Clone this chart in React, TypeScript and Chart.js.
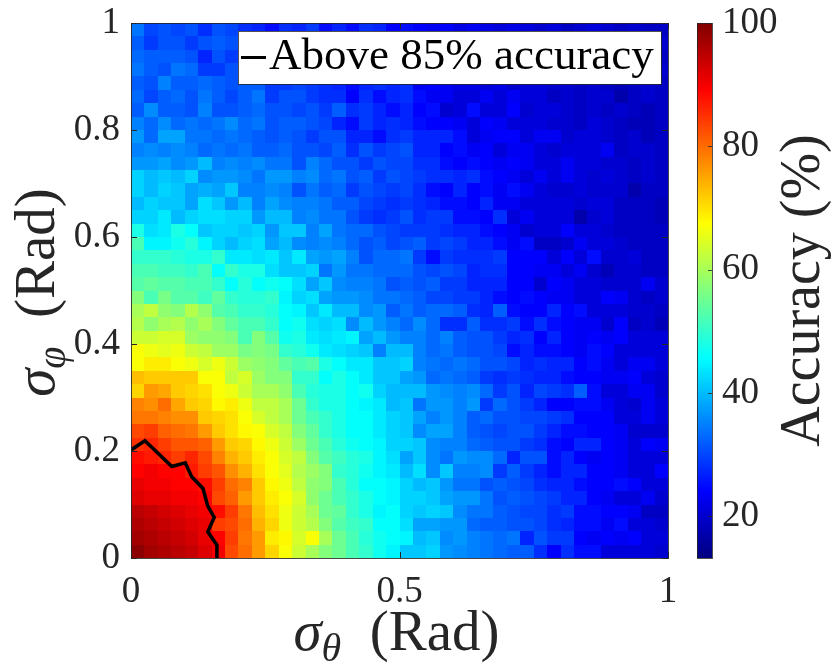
import React, { useEffect, useRef } from 'react';
import { Chart, registerables } from 'chart.js';

Chart.register(...registerables);

// ---------------- data ----------------
const sigmaStep = 0.025; // grid spacing of sigma_theta and sigma_phi (Rad)
const xTickValues = [0, 0.5, 1];
const yTickValues = [0, 0.2, 0.4, 0.6, 0.8, 1];
const colorTickValues = [20, 40, 60, 80, 100];
const colorLimits = [13.2, 100];
const legendLabel = 'Above 85% accuracy';
// 85 % accuracy contour (sigma_theta, sigma_phi) in Rad
const contourTheta = [0, 0.026, 0.076, 0.101, 0.113, 0.134, 0.143, 0.155, 0.143, 0.16, 0.16];
const contourPhi = [0.202, 0.219, 0.171, 0.178, 0.152, 0.13, 0.097, 0.076, 0.049, 0.024, 0];
// accuracy (%) per cell; rows run from sigma_phi = 1 (top) down to 0, columns sigma_theta = 0 -> 1
const accuracyRows: number[][] = [
  [34,30,31,30,31,28,31,30,28,27,25,28,27,29,25,27,25,28,27,24,25,24,23,24,22,23,22,21,22,21,20,21,19,20,21,20,19,20,19,19],
  [32,29,31,31,29,31,32,31,30,28,29,27,28,26,27,26,25,26,24,25,24,23,24,23,22,23,22,21,22,21,20,21,20,20,19,20,19,19,20,20],
  [33,32,32,32,31,27,31,29,31,29,28,29,27,28,26,27,25,26,25,24,25,24,23,24,22,22,23,21,22,21,21,20,21,20,20,19,20,19,19,19],
  [34,32,31,34,33,29,29,31,30,31,29,28,28,27,27,26,26,25,26,25,24,25,23,23,24,22,21,22,21,22,20,21,20,21,19,20,19,20,19,20],
  [32,31,35,32,32,33,32,31,32,32,29,29,30,29,28,27,25,27,28,27,28,23,24,23,22,22,21,22,20,21,21,20,20,19,20,19,18,19,20,19],
  [33,30,32,33,31,34,32,30,32,34,29,31,31,29,28,28,24,28,25,27,28,25,23,23,21,21,23,21,23,21,21,19,20,19,20,20,17,19,20,19],
  [32,36,32,32,31,35,31,31,32,33,31,31,30,31,29,32,28,29,27,25,27,24,25,20,21,25,21,21,24,20,21,21,20,19,20,19,20,19,18,19],
  [35,33,36,33,34,33,34,36,33,34,31,32,32,31,30,27,25,29,27,28,27,25,24,24,23,21,24,23,21,21,21,20,20,19,21,20,19,18,18,19],
  [37,33,38,38,34,34,33,34,33,32,31,32,31,29,31,31,27,27,25,28,29,27,27,27,25,21,23,24,24,21,23,23,20,21,21,20,19,20,18,19],
  [35,36,35,36,35,33,34,33,34,32,32,33,31,31,30,32,28,31,29,30,31,27,27,24,25,23,24,21,23,23,21,20,21,21,21,23,19,20,20,19],
  [37,37,38,36,37,40,35,36,35,36,34,34,31,35,33,31,31,29,31,30,30,28,28,25,24,25,24,23,24,23,21,21,23,21,21,20,20,19,20,19],
  [42,40,41,40,42,36,37,37,36,34,37,37,35,36,33,34,31,32,29,31,30,29,28,28,27,28,25,24,23,21,23,21,23,21,20,21,20,19,20,19],
  [42,40,42,41,38,39,38,41,35,35,36,35,31,34,32,33,29,31,30,29,30,28,25,24,27,24,25,23,25,23,21,20,20,21,20,20,20,17,19,19],
  [40,42,41,41,38,43,41,37,40,35,38,36,35,35,34,32,32,30,29,28,29,28,27,25,25,24,27,23,23,21,21,21,21,20,21,21,19,19,19,18],
  [42,42,44,40,42,43,43,42,42,37,40,40,35,36,34,34,31,29,28,29,31,28,29,29,25,25,24,28,21,23,21,21,21,17,20,21,19,19,19,18],
  [48,43,44,48,46,41,42,42,41,42,37,41,41,35,38,34,33,33,31,30,29,29,29,28,27,27,25,24,23,20,21,21,24,21,21,20,19,19,19,19],
  [52,45,45,47,49,45,42,40,42,43,38,40,36,35,36,35,33,31,32,30,31,32,29,30,29,27,27,25,23,25,19,19,20,23,21,21,20,19,19,19],
  [50,50,50,49,48,48,50,44,44,43,44,41,44,38,37,38,35,31,33,33,34,29,25,29,28,28,28,29,24,24,24,21,24,21,25,20,20,21,19,19],
  [52,52,51,51,50,52,46,50,48,48,43,41,41,42,34,37,34,34,33,33,33,31,30,31,30,27,28,28,24,24,23,23,21,23,20,18,20,20,19,19],
  [53,54,53,53,52,52,50,46,49,46,47,46,43,38,41,36,35,35,34,31,32,31,32,29,29,27,27,27,24,24,20,24,23,21,21,20,20,20,23,20],
  [57,52,56,53,53,51,54,50,49,49,50,45,42,43,38,37,37,36,34,34,33,32,30,30,29,29,27,25,24,25,24,23,23,21,21,24,23,20,19,20],
  [60,62,58,57,61,58,53,52,50,50,49,46,45,41,44,40,40,36,37,32,34,32,33,33,32,28,27,32,25,24,24,27,24,25,21,21,21,20,20,19],
  [61,58,60,61,58,60,57,54,52,52,50,46,47,43,42,43,36,40,37,35,33,36,33,28,28,32,28,28,29,25,28,25,24,23,23,20,24,19,20,18],
  [63,63,64,64,59,58,58,57,52,57,53,47,48,44,43,44,45,38,40,37,35,35,33,35,32,31,31,29,27,28,24,27,24,23,24,23,24,21,21,21],
  [67,66,65,66,63,62,59,59,56,57,56,50,49,47,44,43,42,41,35,40,40,35,33,34,32,31,31,30,25,27,25,25,24,23,25,24,21,21,21,21],
  [67,69,69,67,66,64,66,63,59,58,57,54,52,53,48,46,44,44,41,41,42,35,34,33,34,33,31,31,30,27,28,27,27,24,25,23,21,23,23,21],
  [73,72,72,72,72,67,67,62,64,59,57,57,50,50,46,48,46,44,41,41,38,37,33,34,33,32,29,28,29,28,27,27,25,24,24,23,23,24,21,20],
  [71,76,75,72,71,70,67,66,63,60,60,58,52,49,48,48,46,47,42,40,40,40,37,36,35,36,33,29,31,27,30,29,28,32,25,21,21,23,23,20],
  [78,77,80,75,72,71,68,69,66,62,62,60,55,50,48,48,46,45,44,40,41,34,37,37,35,37,29,33,31,29,27,24,24,25,25,23,21,20,23,21],
  [79,79,78,77,77,72,71,70,67,64,62,60,55,52,50,48,46,46,44,42,41,38,35,37,35,32,33,31,31,30,30,29,28,24,24,24,21,21,23,21],
  [83,84,81,80,79,76,72,70,68,67,64,62,57,54,50,48,46,46,44,42,41,36,38,38,35,32,31,30,31,31,29,27,25,25,24,24,23,20,20,20],
  [85,86,84,82,82,81,76,72,71,68,66,63,59,55,52,49,47,46,45,42,42,41,36,35,35,33,32,31,31,29,28,25,24,27,27,24,23,21,24,23],
  [88,87,86,84,86,83,78,74,72,69,67,64,62,57,53,51,49,48,45,43,38,41,36,34,37,36,36,33,27,31,31,25,27,24,23,24,23,21,21,21],
  [89,90,89,89,87,84,82,77,74,70,67,65,61,59,57,50,49,47,45,44,40,43,36,41,35,35,36,29,32,29,27,25,27,27,24,24,23,21,21,24],
  [91,90,90,89,89,88,84,80,78,72,68,66,62,58,57,52,49,46,46,45,42,40,41,37,34,34,31,32,31,30,28,27,27,25,24,24,25,24,21,21],
  [92,91,91,90,90,89,83,81,76,72,69,67,64,58,55,52,50,48,46,45,42,42,41,38,37,37,34,31,32,31,30,29,27,27,24,23,21,21,23,20],
  [95,94,93,92,91,90,88,84,79,73,70,66,63,60,55,54,50,48,45,46,42,41,42,41,36,34,34,32,31,30,30,28,29,25,25,24,24,23,19,19],
  [96,95,94,93,92,91,84,83,80,74,71,66,63,61,57,53,51,50,46,46,43,38,38,37,37,33,32,32,31,31,30,28,27,25,25,23,25,21,21,20],
  [97,96,95,94,93,91,89,84,79,76,69,68,64,67,60,55,52,49,47,46,45,40,41,36,37,35,34,33,34,27,31,29,29,24,23,24,23,24,21,21],
  [99,97,96,95,94,92,90,83,80,76,71,67,63,60,57,55,52,50,47,45,41,41,42,37,36,35,34,33,32,32,28,24,28,25,25,21,21,21,21,20],
];

// ---------------- styling ----------------
const FAMILY = '"Liberation Serif", "Times New Roman", serif';
const INK = '#262626';

function jetColor(v: number): string {
  const [lo, hi] = colorLimits;
  const t = Math.min(1, Math.max(0, (v - lo) / (hi - lo)));
  const ch = (k: number) => Math.round(255 * Math.min(1, Math.max(0, 1.5 - Math.abs(4 * t - k))));
  return `rgb(${ch(3)},${ch(2)},${ch(1)})`;
}

function drawSigmaTitle(ctx: CanvasRenderingContext2D, sub: string, cx: number, baseY: number, vertical: boolean) {
  const size = 57;
  ctx.save();
  ctx.translate(cx, baseY);
  if (vertical) ctx.rotate(-Math.PI / 2);
  const fMain = `italic ${size}px ${FAMILY}`;
  const fSub = `italic ${Math.round(size * 0.7)}px ${FAMILY}`;
  const fUp = `${size}px ${FAMILY}`;
  const rest = '\u2002(Rad)';
  ctx.font = fMain; const w1 = ctx.measureText('σ').width;
  ctx.font = fSub; const w2 = ctx.measureText(sub).width;
  ctx.font = fUp; const w3 = ctx.measureText(rest).width;
  let x = -(w1 + w2 + w3) / 2;
  ctx.fillStyle = INK;
  ctx.textAlign = 'left';
  ctx.textBaseline = 'alphabetic';
  ctx.font = fMain; ctx.fillText('σ', x, 0); x += w1;
  ctx.font = fSub; ctx.fillText(sub, x, size * 0.2); x += w2;
  ctx.font = fUp; ctx.fillText(rest, x, 0);
  ctx.restore();
}

const heatmapPlugin = {
  id: 'heatmap',
  beforeDatasetsDraw(chart: any) {
    const { ctx, chartArea: ca } = chart;
    const xs = chart.scales.x;
    const ys = chart.scales.y;
    ctx.save();
    ctx.beginPath();
    ctx.rect(ca.left, ca.top, ca.right - ca.left, ca.bottom - ca.top);
    ctx.clip();
    const nRows = accuracyRows.length;
    accuracyRows.forEach((row, r) => {
      const phiHi = (nRows - r) * sigmaStep;
      const phiLo = (nRows - r - 1) * sigmaStep;
      const yTop = Math.round(ys.getPixelForValue(phiHi));
      const yBot = Math.round(ys.getPixelForValue(phiLo));
      row.forEach((v, c) => {
        const x0 = Math.round(xs.getPixelForValue(c * sigmaStep));
        const x1 = Math.round(xs.getPixelForValue((c + 1) * sigmaStep));
        ctx.fillStyle = jetColor(v);
        ctx.fillRect(x0, yTop, x1 - x0, yBot - yTop);
      });
    });
    ctx.restore();
  },
  afterDatasetsDraw(chart: any) {
    const { ctx, chartArea: ca } = chart;
    const xs = chart.scales.x;
    const ys = chart.scales.y;
    const tl = 6;
    ctx.save();
    ctx.strokeStyle = INK;
    ctx.lineWidth = 1;
    ctx.beginPath();
    xTickValues.forEach((v) => {
      const px = Math.round(xs.getPixelForValue(v)) + 0.5;
      ctx.moveTo(px, ca.bottom); ctx.lineTo(px, ca.bottom - tl);
      ctx.moveTo(px, ca.top); ctx.lineTo(px, ca.top + tl);
    });
    yTickValues.forEach((v) => {
      const py = Math.round(ys.getPixelForValue(v)) + 0.5;
      ctx.moveTo(ca.left, py); ctx.lineTo(ca.left + tl, py);
      ctx.moveTo(ca.right, py); ctx.lineTo(ca.right - tl, py);
    });
    ctx.stroke();
    ctx.strokeStyle = 'rgba(38,38,38,0.85)';
    ctx.strokeRect(Math.round(ca.left) + 0.5, Math.round(ca.top) + 0.5, Math.round(ca.right - ca.left), Math.round(ca.bottom - ca.top));
    ctx.restore();
  },
  afterDraw(chart: any) {
    const { ctx, chartArea: ca } = chart;
    const cb = chart.scales.cbar;
    // colour bar
    const barL = Math.round(cb.left + 29);
    const barW = 15;
    const top = Math.round(cb.getPixelForValue(colorLimits[1]));
    const bottom = Math.round(cb.getPixelForValue(colorLimits[0]));
    ctx.save();
    for (let py = top; py < bottom; py++) {
      ctx.fillStyle = jetColor(cb.getValueForPixel(py + 0.5));
      ctx.fillRect(barL, py, barW, 1);
    }
    ctx.strokeStyle = 'rgba(38,38,38,0.8)';
    ctx.lineWidth = 1;
    ctx.strokeRect(barL + 0.5, top + 0.5, barW, bottom - top);
    ctx.beginPath();
    colorTickValues.forEach((v) => {
      const py = Math.round(cb.getPixelForValue(v)) + 0.5;
      ctx.moveTo(barL + barW, py); ctx.lineTo(barL + barW - 4, py);
    });
    ctx.stroke();
    // colour bar title
    ctx.translate(cb.left + 151, (top + bottom) / 2);
    ctx.rotate(-Math.PI / 2);
    ctx.font = `56px ${FAMILY}`;
    ctx.fillStyle = INK;
    ctx.textAlign = 'center';
    ctx.textBaseline = 'alphabetic';
    ctx.fillText('Accuracy (%)', 0, 0);
    ctx.restore();

    // axis titles
    drawSigmaTitle(ctx, 'θ', (ca.left + ca.right) / 2 - 3, ca.bottom + 92, false);
    drawSigmaTitle(ctx, 'φ', ca.left - 77, (ca.top + ca.bottom) / 2 + 2, true);

    // legend box
    const label = chart.data.datasets[0].label as string;
    const boxR = Math.round(ca.right - 7);
    const boxT = Math.round(ca.top + 8);
    const boxW = 423;
    const boxH = 53;
    const boxL = boxR - boxW;
    ctx.save();
    ctx.fillStyle = '#ffffff';
    ctx.fillRect(boxL, boxT, boxW, boxH);
    ctx.strokeStyle = 'rgba(38,38,38,0.8)';
    ctx.lineWidth = 1;
    ctx.strokeRect(boxL + 0.5, boxT + 0.5, boxW, boxH);
    const midY = boxT + boxH / 2;
    ctx.strokeStyle = '#000000';
    ctx.lineWidth = 3;
    ctx.beginPath();
    ctx.moveTo(boxL + 3, midY);
    ctx.lineTo(boxL + 28, midY);
    ctx.stroke();
    ctx.font = `45px ${FAMILY}`;
    ctx.fillStyle = '#000000';
    ctx.textAlign = 'left';
    ctx.textBaseline = 'alphabetic';
    ctx.fillText(label, boxL + 31, boxT + 38);
    ctx.restore();
  },
};

export default function App() {
  const canvasRef = useRef<HTMLCanvasElement | null>(null);

  useEffect(() => {
    if (!canvasRef.current) return;
    const tickFont = { family: FAMILY, size: 37 };
    const chart = new Chart(canvasRef.current, {
      type: 'scatter',
      data: {
        datasets: [
          {
            label: legendLabel,
            data: contourTheta.map((t, i) => ({ x: t, y: contourPhi[i] })),
            showLine: true,
            borderColor: '#000000',
            backgroundColor: '#000000',
            borderWidth: 3.5,
            pointRadius: 0,
            tension: 0,
          },
        ],
      },
      options: {
        animation: false,
        responsive: true,
        maintainAspectRatio: false,
        devicePixelRatio: 1,
        events: [],
        layout: { padding: { top: 23, left: 0, right: 0, bottom: 0 } },
        plugins: { legend: { display: false }, tooltip: { enabled: false } },
        scales: {
          x: {
            type: 'linear',
            min: 0,
            max: 1,
            afterBuildTicks: (s: any) => { s.ticks = xTickValues.map((v) => ({ value: v })); },
            afterFit: (s: any) => { s.height = 110; },
            ticks: { font: tickFont, color: INK, padding: 0, maxRotation: 0, autoSkip: false, callback: (v: any) => `${+v}` },
            grid: { display: false, drawTicks: true, tickLength: 12 },
            border: { display: false },
          },
          y: {
            type: 'linear',
            min: 0,
            max: 1,
            afterBuildTicks: (s: any) => { s.ticks = yTickValues.map((v) => ({ value: v })); },
            afterFit: (s: any) => { s.width = 131; },
            ticks: { font: tickFont, color: INK, padding: 0, autoSkip: false, callback: (v: any) => `${+v}` },
            grid: { display: false, drawTicks: true, tickLength: 11 },
            border: { display: false },
          },
          cbar: {
            type: 'linear',
            position: 'right',
            min: colorLimits[0],
            max: colorLimits[1],
            afterBuildTicks: (s: any) => { s.ticks = colorTickValues.map((v) => ({ value: v })); },
            afterFit: (s: any) => { s.width = 167; },
            ticks: { font: tickFont, color: INK, padding: 0, autoSkip: false, callback: (v: any) => `${+v}` },
            grid: { display: false, drawTicks: true, tickLength: 54 },
            border: { display: false },
          },
        },
      } as any,
      plugins: [heatmapPlugin],
    });
    return () => chart.destroy();
  }, []);

  return (
    <div style={{ position: 'fixed', left: 0, top: 0, width: 835, height: 668, background: '#ffffff' }}>
      <canvas ref={canvasRef} />
    </div>
  );
}
